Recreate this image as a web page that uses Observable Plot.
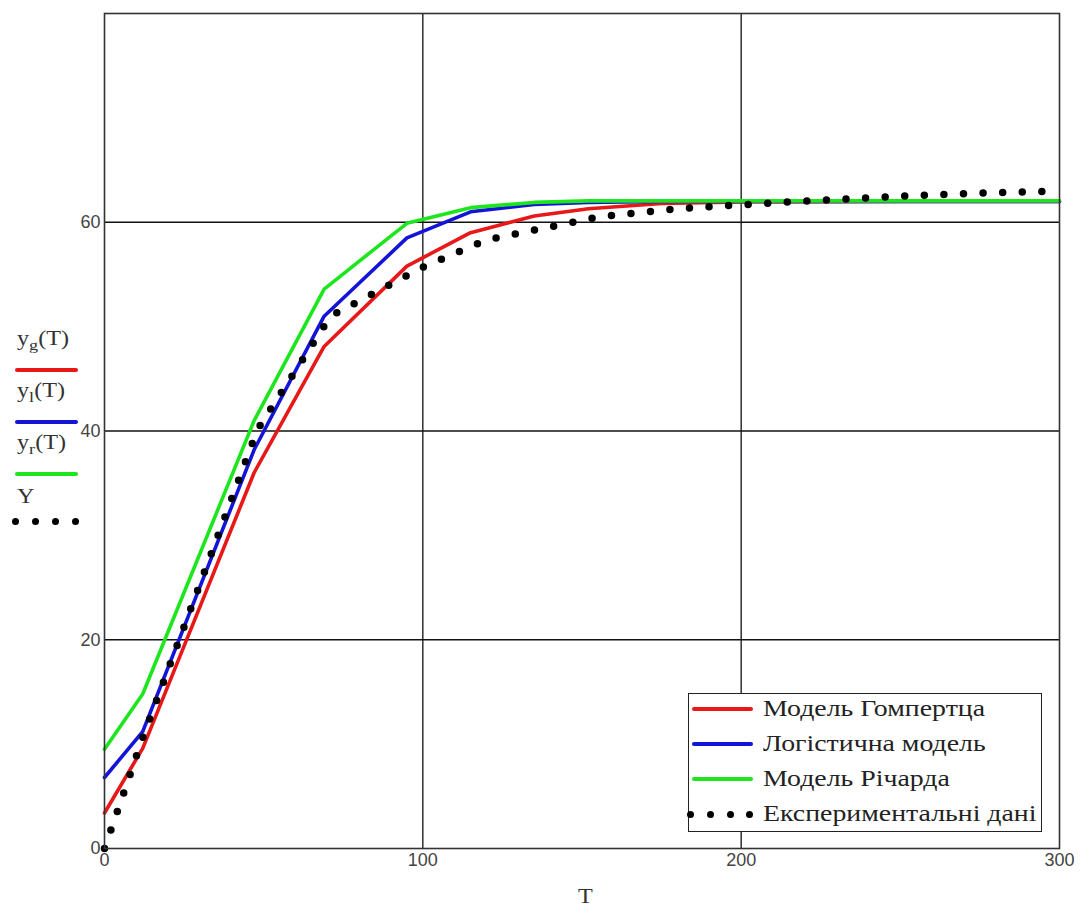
<!DOCTYPE html>
<html>
<head>
<meta charset="utf-8">
<script src="https://cdn.jsdelivr.net/npm/d3@7"></script>
<script src="https://cdn.jsdelivr.net/npm/@observablehq/plot@0.6"></script>
<style>
  body { margin: 0; background: #fff; }
  #wrap { position: relative; width: 1087px; height: 909px; overflow: hidden; background: #fff; }
  #wrap svg { position: absolute; left: 0; top: 0; }
  .lbl { position: absolute; font-family: "Liberation Serif", "DejaVu Serif", serif; color: #333; white-space: nowrap; line-height: 1; transform: scaleX(1.21); transform-origin: left center; }
  .lbl sub { font-size: 0.75em; vertical-align: -0.35em; line-height: 0; }
  .sw { position: absolute; height: 4px; border-radius: 2px; }
  .dot { position: absolute; width: 7px; height: 7px; border-radius: 50%; background: #000; }
  #box { position: absolute; left: 688px; top: 693px; width: 354px; height: 139px; border: 1.2px solid #222; background: #fff; box-sizing: border-box; }
</style>
</head>
<body>
<div id="wrap"></div>
<script>
// ---- data ----
const tModel    = [0, 12, 47, 69, 95, 115, 135, 152, 175, 200, 250, 300];
const yGompertz = [3.4, 9.6, 36.0, 48.1, 55.8, 59.0, 60.6, 61.3, 61.8, 61.95, 62.0, 62.0];
const yLogistic = [6.8, 11.2, 38.2, 51.0, 58.5, 61.0, 61.7, 61.9, 62.0, 62.0, 62.0, 62.0];
const yRichards = [9.5, 14.8, 41.0, 53.6, 59.9, 61.4, 61.9, 62.05, 62.05, 62.05, 62.05, 62.05];
const tExp = [0, 12, 48, 71, 100, 120, 155, 180, 215, 250, 275, 300];
const yExp = [0, 10.6, 40.1, 51.0, 55.7, 58.3, 60.5, 61.3, 61.95, 62.5, 62.8, 63.0];

const xTicks = [0, 100, 200, 300];
const yTicks = [0, 20, 40, 60];
const legendLabels = ["Модель Гомпертца", "Логістична модель", "Модель Річарда", "Експериментальні дані"];
const sideLabels = [["y", "g"], ["y", "l"], ["y", "r"], ["Y", ""]];
const colors = ["#e81818", "#1414d8", "#1ee61e", "#000000"];

const model = (ys) => tModel.map((t, i) => ({T: t, v: ys[i]}));
const expData = tExp.map((t, i) => ({T: t, v: yExp[i]}));

const plot = Plot.plot({
  width: 1087,
  height: 909,
  marginLeft: 104,
  marginRight: 28,
  marginTop: 13,
  marginBottom: 61,
  style: {background: "#fff", fontFamily: "'Liberation Sans', Arial, sans-serif", fontSize: "18px", color: "#444"},
  x: {domain: [0, 300]},
  y: {domain: [0, 80]},
  marks: [
    Plot.gridX([100, 200], {stroke: "#111", strokeOpacity: 1, strokeWidth: 1.3}),
    Plot.gridY([20, 40, 60], {stroke: "#111", strokeOpacity: 1, strokeWidth: 1.3}),
    Plot.axisX({ticks: xTicks, tickSize: 0, tickPadding: 5, label: null, fontSize: 18, fill: "#444"}),
    Plot.axisY({ticks: yTicks, tickSize: 0, tickPadding: 4, label: null, fontSize: 18, fill: "#444"}),
    Plot.line(model(yGompertz), {x: "T", y: "v", stroke: colors[0], strokeWidth: 3.6}),
    Plot.line(model(yLogistic), {x: "T", y: "v", stroke: colors[1], strokeWidth: 3.6}),
    Plot.line(model(yRichards), {x: "T", y: "v", stroke: colors[2], strokeWidth: 3.6}),
    Plot.line(expData, {x: "T", y: "v", stroke: "#000", strokeWidth: 7.5, strokeDasharray: "0 19.6", strokeLinecap: "round"}),
    Plot.frame({stroke: "#333", strokeWidth: 1.6})
  ]
});

const wrap = document.getElementById("wrap");
wrap.appendChild(plot);

function add(html, cls, style) {
  const d = document.createElement("div");
  d.className = cls;
  if (html) d.innerHTML = html;
  Object.assign(d.style, style);
  wrap.appendChild(d);
  return d;
}

// axis title
add("T", "lbl", {left: "578px", top: "886px", fontSize: "20px"});

// left-side trace labels
const sideTop = [328, 380, 432, 486];
const swTop = [368, 420, 472, 518];
sideLabels.forEach(([a, s], i) => {
  add(s ? `${a}<sub>${s}</sub>(T)` : a, "lbl", {left: "17px", top: sideTop[i] + "px", fontSize: "20px"});
  if (i < 3) add("", "sw", {left: "15px", top: swTop[i] + "px", width: "63px", background: colors[i]});
  else [15, 35, 55, 75].forEach(x => add("", "dot", {left: (x - 3.5) + "px", top: (swTop[i]) + "px"}));
});

// bottom-right legend
const box = add("", "", {});
box.id = "box";
const rowY = [709, 744, 779, 814];
legendLabels.forEach((txt, i) => {
  if (i < 3) add("", "sw", {left: "692px", top: (rowY[i] - 2) + "px", width: "61px", background: colors[i]});
  else [690, 710, 730, 749].forEach(x => add("", "dot", {left: (x - 3.5) + "px", top: (rowY[i] - 3.5) + "px"}));
  add(txt, "lbl", {left: "763px", top: (rowY[i] - 12) + "px", fontSize: "23px", color: "#222"});
});
</script>
</body>
</html>
